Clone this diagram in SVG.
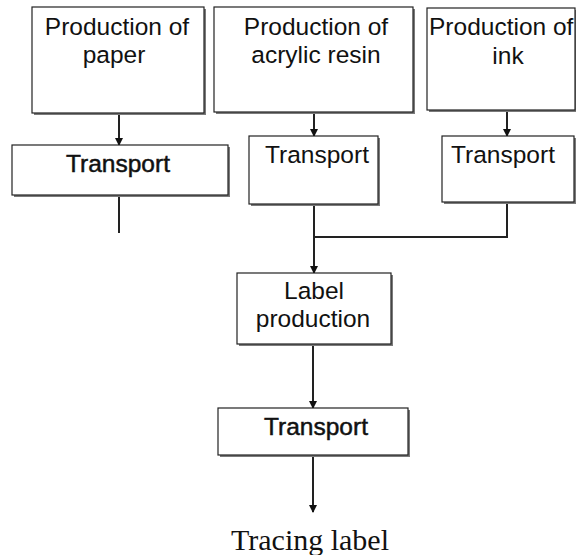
<svg xmlns="http://www.w3.org/2000/svg" width="576" height="555" viewBox="0 0 576 555">
  <style>
    .box { fill: #ffffff; stroke: #222222; stroke-width: 1.2; }
    .shadow { fill: #7a7a7a; }
    .lbl { font-family: "Liberation Sans", Arial, sans-serif; font-size: 24.5px; fill: #111111; text-anchor: middle; }
    .heavy { stroke: #111111; stroke-width: 0.5; }
    .wire { fill: none; stroke: #222222; stroke-width: 2; }
    .caption { font-family: "Liberation Serif", "Times New Roman", serif; font-size: 30px; fill: #111111; text-anchor: middle; }
  </style>
  <defs>
    <marker id="arrow" viewBox="0 0 8 8" refX="7" refY="4" markerWidth="4" markerHeight="4" orient="auto" markerUnits="strokeWidth">
      <path d="M0,0 L8,4 L0,8 Z" fill="#111111"/>
    </marker>
  </defs>
  <rect width="576" height="555" fill="#ffffff"/>

  <g id="connectors">
    <line class="wire" x1="119" y1="113" x2="119" y2="145" marker-end="url(#arrow)"/>
    <line class="wire" x1="119" y1="195" x2="119" y2="233"/>
    <line class="wire" x1="314" y1="112" x2="314" y2="136" marker-end="url(#arrow)"/>
    <line class="wire" x1="507" y1="110" x2="507" y2="136" marker-end="url(#arrow)"/>
    <polyline class="wire" points="314,204 314,237 507,237 507,202"/>
    <line class="wire" x1="314" y1="237" x2="314" y2="273" marker-end="url(#arrow)"/>
    <line class="wire" x1="313" y1="344" x2="313" y2="408" marker-end="url(#arrow)"/>
    <line class="wire" x1="313" y1="455" x2="313" y2="512" marker-end="url(#arrow)"/>
  </g>

  <g id="paper">
    <rect class="shadow" x="34" y="9" width="172" height="106"/>
    <rect class="box" x="32" y="7" width="172" height="106"/>
    <text class="lbl" x="117" y="35">Production of</text>
    <text class="lbl" x="114" y="63">paper</text>
  </g>

  <g id="resin">
    <rect class="shadow" x="216" y="9" width="199" height="105"/>
    <rect class="box" x="214" y="7" width="199" height="105"/>
    <text class="lbl" x="316" y="35">Production of</text>
    <text class="lbl" x="316" y="63">acrylic resin</text>
  </g>

  <g id="ink">
    <rect class="shadow" x="429" y="10" width="147" height="102"/>
    <rect class="box" x="427" y="8" width="148" height="102"/>
    <text class="lbl" x="429" y="35" style="text-anchor:start">Production of</text>
    <text class="lbl" x="508" y="64">ink</text>
  </g>

  <g id="transport-paper">
    <rect class="shadow" x="14" y="147" width="216" height="50"/>
    <rect class="box" x="12" y="145" width="216" height="50"/>
    <text class="lbl heavy" x="118" y="172">Transport</text>
  </g>

  <g id="transport-resin">
    <rect class="shadow" x="251" y="138" width="129" height="68"/>
    <rect class="box" x="249" y="136" width="129" height="68"/>
    <text class="lbl" x="317" y="163">Transport</text>
  </g>

  <g id="transport-ink">
    <rect class="shadow" x="444" y="138" width="132" height="66"/>
    <rect class="box" x="442" y="136" width="132" height="66"/>
    <text class="lbl" x="503" y="163">Transport</text>
  </g>

  <g id="label-production">
    <rect class="shadow" x="239" y="275" width="154" height="71"/>
    <rect class="box" x="237" y="273" width="154" height="71"/>
    <text class="lbl" x="314" y="299">Label</text>
    <text class="lbl" x="313" y="327">production</text>
  </g>

  <g id="transport-label">
    <rect class="shadow" x="220" y="410" width="190" height="47"/>
    <rect class="box" x="218" y="408" width="190" height="47"/>
    <text class="lbl heavy" x="316" y="435">Transport</text>
  </g>

  <text class="caption" x="310" y="550">Tracing label</text>
</svg>
